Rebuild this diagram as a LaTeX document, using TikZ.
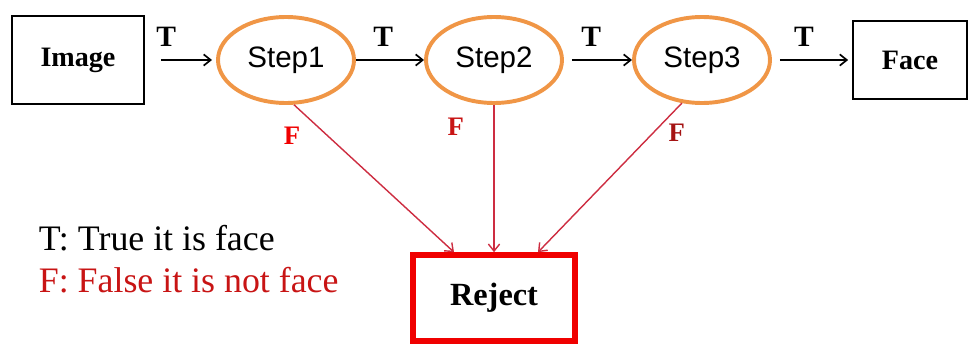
\documentclass[tikz,border=0pt]{standalone}
\usepackage{fontspec}
\setmainfont{Liberation Serif}
\setsansfont{Liberation Sans}
\usetikzlibrary{shapes.geometric}
\usetikzlibrary{arrows.meta}

\begin{document}
\begin{tikzpicture}[->,>={Straight Barb[length=5pt,width=8pt]},auto,node distance=5.2cm,line width=1.2pt,
	step node/.style={ellipse,draw=stepcol,line width=2.8pt,minimum width=3.4cm,minimum height=2.15cm,inner sep=0pt,font=\sffamily\fontsize{21}{21}\selectfont},
	io node/.style={rectangle,draw,line width=1.2pt,font=\bfseries\fontsize{20}{20}\selectfont},
	red line/.style={draw=redcol,line width=1pt}]
	
	\definecolor{stepcol}{RGB}{240,150,70}
	\definecolor{redcol}{RGB}{205,45,65}
	\definecolor{rejcol}{RGB}{240,0,0}
	\definecolor{fcol}{RGB}{200,20,20}
	\definecolor{fdark}{RGB}{165,20,20}
	
	\useasboundingbox (0,0) rectangle (24.2,-8.6);
	
	\node[io node, minimum width=3.3cm, minimum height=2.2cm] (img) at (1.95,-1.5) {Image};
	\node[step node] (s1) [right of=img] {Step1};
	\node[step node] (s2) [right of=s1] {Step2};
	\node[step node] (s3) [right of=s2] {Step3};
	\node[io node, minimum width=2.85cm, minimum height=1.95cm] (face) [right of=s3] {Face};
	\node[io node, draw=rejcol, line width=4pt, minimum width=4.05cm, minimum height=2.15cm, font=\bfseries\fontsize{23}{23}\selectfont] (rej) [below of=s2, node distance=5.95cm] {Reject};
	
	\node[anchor=north west, align=left, inner sep=0pt, font=\fontsize{25.5}{30.5}\selectfont] (legend) at (0.95,-5.6) {T: True it is face\\\textcolor{fcol}{F: False it is not face}};
	
	\path[every node/.style={font=\bfseries\fontsize{21}{21}\selectfont}]
	(img) edge[shorten <=0.4cm, shorten >=0.1cm] node [pos=0.3, above=0.2cm] {T} (s1)
	(s1) edge node [pos=0.4, above=0.2cm] {T} (s2)
	(s2) edge[shorten <=0.2cm] node [pos=0.4, above=0.2cm] {T} (s3)
	(s3) edge[shorten <=0.2cm, shorten >=0.1cm] node [pos=0.4, above=0.2cm] {T} (face);
	
	\path[every node/.style={font=\bfseries\fontsize{19}{19}\selectfont}]
	(s1.280) edge[red line] node [pos=0.21, left=0.55cm, text=rejcol] {F} ([xshift=-1cm]rej.north)
	(s2.south) edge[red line] node [pos=0.15, left=0.62cm, text=fcol] {F} (rej)
	(s3.245) edge[red line] node [pos=0.2, right=0.25cm, text=fdark] {F} ([xshift=1.1cm]rej.north);
\end{tikzpicture}
\end{document}
